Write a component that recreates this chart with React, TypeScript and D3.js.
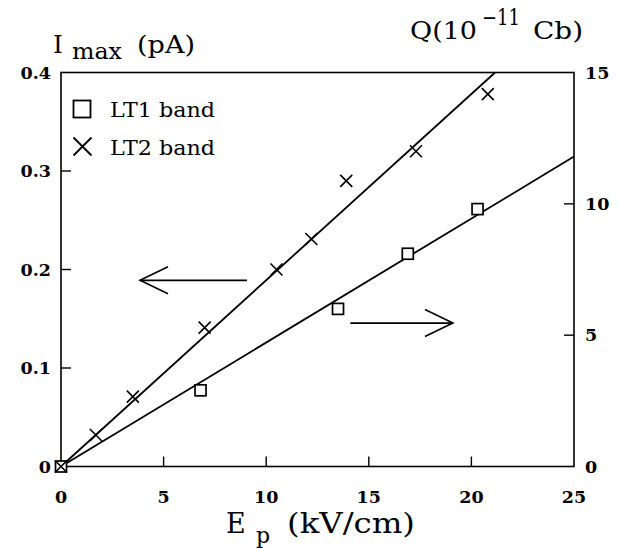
import React from "react";
import * as d3 from "d3";

// ---- data ----
const xTicks = [0, 5, 10, 15, 20, 25];
const leftTicks = [0, 0.1, 0.2, 0.3, 0.4];
const leftTickLabels = ["0", "0.1", "0.2", "0.3", "0.4"];
const rightTicks = [0, 5, 10, 15];

// LT1 band (squares) -> right axis Q (1e-11 Cb)
const lt1E = [0, 6.8, 13.5, 16.9, 20.3];
const lt1Q = [0, 2.9, 6.0, 8.1, 9.8];
// LT2 band (crosses) -> left axis Imax (pA)
const lt2E = [0, 1.7, 3.5, 7.0, 10.5, 12.2, 13.9, 17.3, 20.8];
const lt2I = [0, 0.032, 0.071, 0.141, 0.2, 0.231, 0.29, 0.32, 0.378];

// linear fits through origin
const lt1Slope = 0.472; // Q per kV/cm
const lt2Slope = 0.01891; // pA per kV/cm

// annotation arrows [x0, y0, x1, y1] (tail -> tip)
const arrowLeftAxis = [9.06, 0.189, 3.85, 0.189];
const arrowRightAxis = [14.1, 5.46, 19.1, 5.46];

const W = 618;
const H = 548;
const L = 61, R = 574, T = 72.5, B = 466.5;

export default function App() {
  const x = d3.scaleLinear().domain([0, 25]).range([L, R]);
  const yL = d3.scaleLinear().domain([0, 0.4]).range([B, T]);
  const yR = d3.scaleLinear().domain([0, 15]).range([B, T]);

  const tickFont = { fontFamily: "DejaVu Serif", fontWeight: 700, fontSize: 17.5 } as const;
  const titleFont = { fontFamily: "DejaVu Serif", fontWeight: 400 } as const;

  const line = d3.line<[number, number]>().x((d) => d[0]).y((d) => d[1]);

  // fit line endpoints
  const lt2End = Math.min(25, 0.4 / lt2Slope);
  const lt2Line: [number, number][] = [
    [x(0), yL(0)],
    [x(lt2End), yL(lt2Slope * lt2End)],
  ];
  const lt1End = Math.min(25, 15 / lt1Slope);
  const lt1Line: [number, number][] = [
    [x(0), yR(0)],
    [x(lt1End), yR(lt1Slope * lt1End)],
  ];

  const arrow = (p: number[], ys: d3.ScaleLinear<number, number>, key: string) => {
    const x0 = x(p[0]), y0 = ys(p[1]), x1 = x(p[2]), y1 = ys(p[3]);
    const dir = Math.sign(x1 - x0);
    const back = 28, spread = 13.5;
    return (
      <g key={key} stroke="#000" strokeWidth={1.6} fill="none">
        <path d={line([[x0, y0], [x1, y1]]) || ""} />
        <path d={line([[x1 - dir * back, y1 - spread], [x1, y1], [x1 - dir * back, y1 + spread]]) || ""} />
      </g>
    );
  };

  const sq = 11;
  const cr = 6;

  return (
    <svg width={W} height={H} style={{ position: "absolute", left: 0, top: 0, background: "#fff" }}>
      <rect x={0} y={0} width={W} height={H} fill="#fff" />
      {/* frame */}
      <rect x={L} y={T} width={R - L} height={B - T} fill="none" stroke="#000" strokeWidth={1.6} />

      {/* bottom ticks */}
      {xTicks.slice(1, -1).map((t) => (
        <line key={"xt" + t} x1={x(t)} x2={x(t)} y1={B} y2={B - 10} stroke="#000" strokeWidth={1.4} />
      ))}
      {xTicks.map((t) => (
        <text key={"xl" + t} x={x(t)} y={503} textAnchor="middle" {...tickFont}>
          {t}
        </text>
      ))}

      {/* left ticks */}
      {leftTicks.slice(1, -1).map((t) => (
        <line key={"lt" + t} x1={L} x2={L + 10} y1={yL(t)} y2={yL(t)} stroke="#000" strokeWidth={1.4} />
      ))}
      {leftTicks.map((t, i) => (
        <text key={"ll" + t} x={51} y={yL(t)} dy="0.36em" textAnchor="end" {...tickFont}>
          {leftTickLabels[i]}
        </text>
      ))}

      {/* right ticks */}
      {rightTicks.slice(1, -1).map((t) => (
        <line key={"rt" + t} x1={R} x2={R - 10} y1={yR(t)} y2={yR(t)} stroke="#000" strokeWidth={1.4} />
      ))}
      {rightTicks.map((t) => (
        <text key={"rl" + t} x={585} y={yR(t)} dy="0.36em" textAnchor="start" {...tickFont}>
          {t}
        </text>
      ))}

      {/* fit lines */}
      <path d={line(lt2Line) || ""} stroke="#000" strokeWidth={1.8} fill="none" />
      <path d={line(lt1Line) || ""} stroke="#000" strokeWidth={1.8} fill="none" />

      {/* LT1 squares */}
      {lt1E.map((e, i) => (
        <rect
          key={"s" + i}
          x={x(e) - sq / 2}
          y={yR(lt1Q[i]) - sq / 2}
          width={sq}
          height={sq}
          fill="#fff"
          stroke="#000"
          strokeWidth={1.7}
        />
      ))}
      {/* LT2 crosses */}
      {lt2E.map((e, i) => {
        const cx = x(e), cy = yL(lt2I[i]);
        return (
          <path
            key={"c" + i}
            d={`M${cx - cr},${cy - cr}L${cx + cr},${cy + cr}M${cx - cr},${cy + cr}L${cx + cr},${cy - cr}`}
            stroke="#000"
            strokeWidth={1.6}
            fill="none"
          />
        );
      })}

      {/* arrows */}
      {arrow(arrowLeftAxis, yL, "al")}
      {arrow(arrowRightAxis, yR, "ar")}

      {/* legend */}
      <rect x={73.5} y={100.5} width={17} height={17} fill="none" stroke="#000" strokeWidth={1.8} />
      <text x={110} y={117} fontFamily="DejaVu Serif" fontSize={20} textLength={105} lengthAdjust="spacingAndGlyphs">
        LT1 band
      </text>
      <path d="M73.5,137.5L91.5,155.5M73.5,155.5L91.5,137.5" stroke="#000" strokeWidth={1.8} fill="none" />
      <text x={110} y={155} fontFamily="DejaVu Serif" fontSize={20} textLength={105} lengthAdjust="spacingAndGlyphs">
        LT2 band
      </text>

      {/* left title */}
      <text x={53} y={53} fontSize={25} {...titleFont}>I</text>
      <text x={72} y={59} fontSize={23} textLength={50} lengthAdjust="spacingAndGlyphs" {...titleFont}>max</text>
      <text x={137} y={53} fontSize={25} textLength={58} lengthAdjust="spacingAndGlyphs" {...titleFont}>(pA)</text>

      {/* right title */}
      <text x={410} y={39} fontSize={25} textLength={67} lengthAdjust="spacingAndGlyphs" {...titleFont}>Q(10</text>
      <text x={482} y={25} fontSize={22} textLength={38} lengthAdjust="spacingAndGlyphs" {...titleFont}>−11</text>
      <text x={533} y={39} fontSize={25} textLength={50} lengthAdjust="spacingAndGlyphs" {...titleFont}>Cb)</text>

      {/* bottom title */}
      <text x={226} y={533} fontSize={27} {...titleFont}>E</text>
      <text x={256} y={543} fontSize={22} {...titleFont}>p</text>
      <text x={287} y={533} fontSize={27} textLength={128} lengthAdjust="spacingAndGlyphs" {...titleFont}>(kV/cm)</text>
    </svg>
  );
}
